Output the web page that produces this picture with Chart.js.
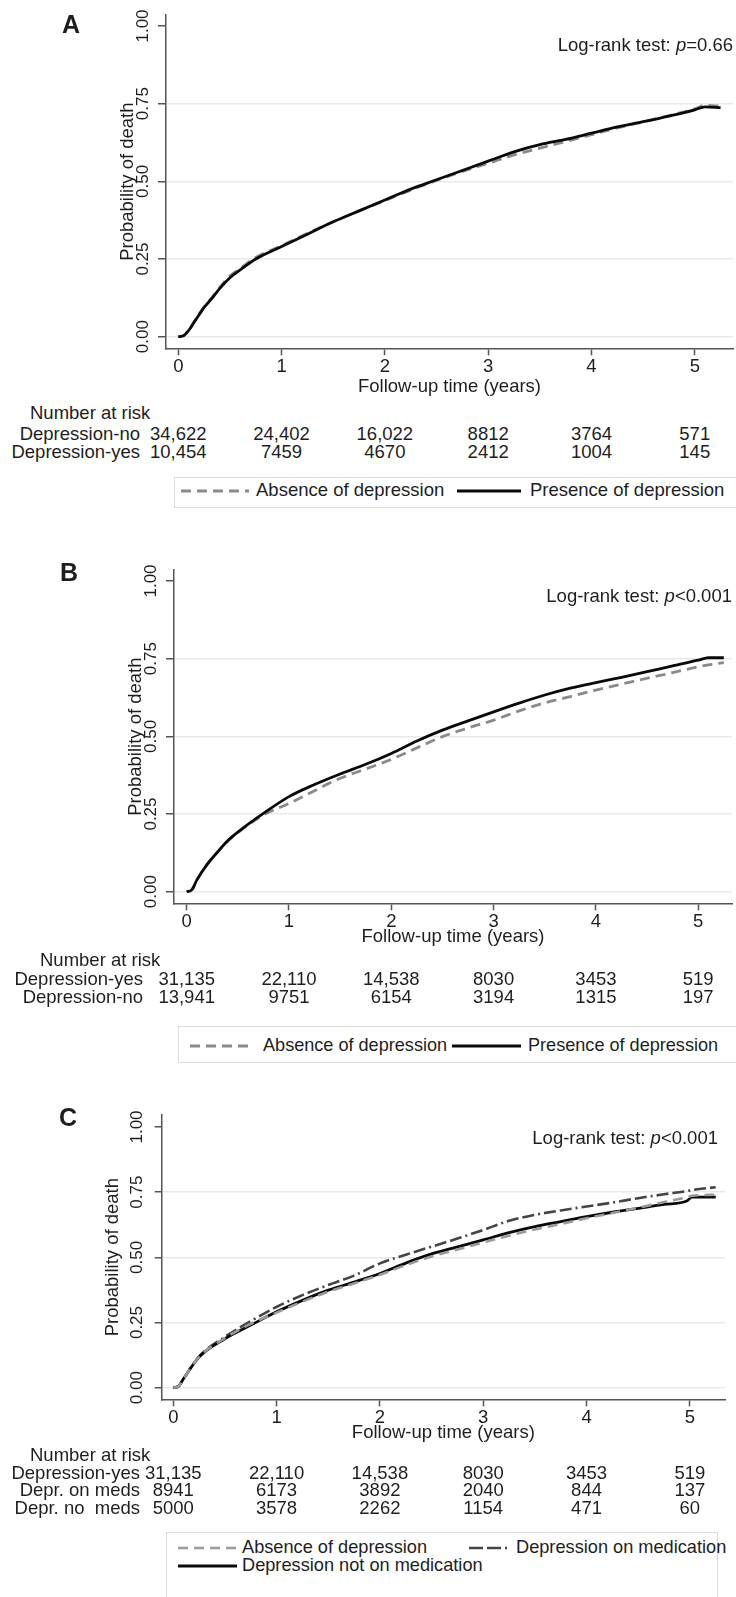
<!DOCTYPE html>
<html>
<head>
<meta charset="utf-8">
<script src="https://cdn.jsdelivr.net/npm/chart.js@4.4.1/dist/chart.umd.min.js"></script>
<style>
  html, body { margin: 0; padding: 0; background: #ffffff; }
  #page { position: relative; width: 736px; height: 1597px; overflow: hidden; background: #fff;
          font-family: "Liberation Sans", Arial, sans-serif; color: #1e1e1e; }
  canvas { position: absolute; left: 0; }
  .t { position: absolute; white-space: pre; line-height: 1.15; }
  .box { position: absolute; border: 1px solid #dcdcdc; box-sizing: border-box; }
  svg.leg { position: absolute; overflow: visible; }
</style>
</head>
<body>
<div id="page">
  <canvas id="cA" width="736" height="400" style="top:0px"></canvas>
  <canvas id="cB" width="736" height="400" style="top:550px"></canvas>
  <canvas id="cC" width="736" height="350" style="top:1100px"></canvas>
</div>
<script>
// ---------------- DATA ----------------
const xTicks = [0, 1, 2, 3, 4, 5];
const yTicks = [0, 0.25, 0.5, 0.75, 1];
const riskTimes = [0, 1, 2, 3, 4, 5];

// Panel A
const timeA = [0, 0.05, 0.1, 0.15, 0.2, 0.25, 0.33, 0.4, 0.5, 0.6, 0.75, 1.0, 1.25, 1.5, 1.75, 2.0, 2.25, 2.5, 2.75, 3.0, 3.25, 3.5, 3.75, 4.0, 4.25, 4.5, 4.75, 5.0, 5.1, 5.25];
const absenceA = [0, 0.003, 0.02, 0.046, 0.072, 0.097, 0.128, 0.158, 0.195, 0.22, 0.255, 0.293, 0.333, 0.37, 0.405, 0.438, 0.472, 0.503, 0.532, 0.558, 0.585, 0.607, 0.628, 0.65, 0.672, 0.691, 0.712, 0.733, 0.745, 0.742];
const presenceA = [0, 0.003, 0.02, 0.045, 0.07, 0.094, 0.125, 0.155, 0.19, 0.215, 0.25, 0.29, 0.33, 0.37, 0.405, 0.44, 0.475, 0.505, 0.535, 0.565, 0.595, 0.618, 0.635, 0.655, 0.675, 0.692, 0.71, 0.73, 0.74, 0.737];
const riskRowsA = ["Depression-no", "Depression-yes"];
const riskA_no = [34622, 24402, 16022, 8812, 3764, 571];
const riskA_yes = [10454, 7459, 4670, 2412, 1004, 145];
const pTextA = "=0.66";

// Panel B
const timeB = [0, 0.05, 0.1, 0.2, 0.3, 0.4, 0.5, 0.75, 1.0, 1.25, 1.5, 1.75, 2.0, 2.25, 2.5, 2.75, 3.0, 3.25, 3.5, 3.75, 4.0, 4.25, 4.5, 4.75, 5.0, 5.1, 5.25];
const absenceB = [0, 0.006, 0.038, 0.088, 0.127, 0.162, 0.19, 0.247, 0.284, 0.325, 0.365, 0.395, 0.426, 0.463, 0.499, 0.527, 0.552, 0.582, 0.608, 0.628, 0.649, 0.668, 0.687, 0.705, 0.724, 0.73, 0.737];
const presenceB = [0, 0.006, 0.038, 0.088, 0.127, 0.164, 0.192, 0.252, 0.306, 0.345, 0.379, 0.41, 0.445, 0.485, 0.52, 0.55, 0.579, 0.607, 0.633, 0.655, 0.673, 0.69, 0.708, 0.727, 0.745, 0.753, 0.753];
const riskRowsB = ["Depression-yes", "Depression-no"];
const riskB_yes = [31135, 22110, 14538, 8030, 3453, 519];
const riskB_no = [13941, 9751, 6154, 3194, 1315, 197];
const pTextB = "<0.001";

// Panel C
const timeC = [0, 0.05, 0.1, 0.25, 0.5, 0.75, 1.0, 1.25, 1.5, 1.75, 2.0, 2.25, 2.5, 2.75, 3.0, 3.25, 3.5, 3.75, 4.0, 4.25, 4.5, 4.75, 4.97, 5.02, 5.25];
const absenceC = [0, 0.005, 0.035, 0.118, 0.19, 0.245, 0.288, 0.33, 0.368, 0.4, 0.433, 0.47, 0.503, 0.53, 0.557, 0.583, 0.607, 0.628, 0.65, 0.67, 0.69, 0.712, 0.73, 0.736, 0.74];
const onMedsC = [0, 0.005, 0.035, 0.12, 0.195, 0.255, 0.31, 0.355, 0.394, 0.43, 0.477, 0.51, 0.541, 0.572, 0.605, 0.64, 0.663, 0.68, 0.695, 0.71, 0.727, 0.742, 0.754, 0.758, 0.769];
const noMedsC = [0, 0.005, 0.035, 0.118, 0.188, 0.24, 0.291, 0.335, 0.374, 0.405, 0.438, 0.478, 0.513, 0.54, 0.567, 0.595, 0.618, 0.637, 0.656, 0.673, 0.688, 0.703, 0.716, 0.731, 0.731];
const riskRowsC = ["Depression-yes", "Depr. on meds", "Depr. no  meds"];
const riskC_yes = [31135, 22110, 14538, 8030, 3453, 519];
const riskC_on = [8941, 6173, 3892, 2040, 844, 137];
const riskC_no = [5000, 3578, 2262, 1154, 471, 60];
const pTextC = "<0.001";

// ---------------- STYLE ----------------
const FAM = '"Liberation Sans", Arial, sans-serif';
const TXT = '#1e1e1e';
const AXIS = '#555555';
const GRID = '#e9e9e9';
const page = document.getElementById('page');

function pts(t, v) { return t.map((x, i) => ({ x: x, y: v[i] })); }
function fmt(n) { return n >= 10000 ? n.toLocaleString('en-US') : String(n); }
function esc(s) { return s.replace(/&/g, '&amp;').replace(/</g, '&lt;'); }

function addText(html, x, y, align, size, extra) {
  const d = document.createElement('div');
  d.className = 't';
  d.innerHTML = html;
  d.style.left = x + 'px';
  d.style.top = y + 'px';
  d.style.fontSize = size + 'px';
  const tx = align === 'center' ? '-50%' : (align === 'right' ? '-100%' : '0');
  d.style.transform = 'translate(' + tx + ',-50%)';
  if (extra) Object.assign(d.style, extra);
  page.appendChild(d);
  return d;
}

function addLegendLine(x1, x2, y, color, width, dash) {
  const ns = 'http://www.w3.org/2000/svg';
  const s = document.createElementNS(ns, 'svg');
  s.setAttribute('class', 'leg');
  s.setAttribute('width', x2 - x1);
  s.setAttribute('height', 6);
  s.style.left = x1 + 'px';
  s.style.top = (y - 3) + 'px';
  const l = document.createElementNS(ns, 'line');
  l.setAttribute('x1', 0); l.setAttribute('x2', x2 - x1);
  l.setAttribute('y1', 3); l.setAttribute('y2', 3);
  l.setAttribute('stroke', color);
  l.setAttribute('stroke-width', width);
  if (dash) l.setAttribute('stroke-dasharray', dash.join(' '));
  s.appendChild(l);
  page.appendChild(s);
}

function addBox(l, t, r, b) {
  const d = document.createElement('div');
  d.className = 'box';
  d.style.left = l + 'px'; d.style.top = t + 'px';
  d.style.width = (r - l) + 'px'; d.style.height = (b - t) + 'px';
  page.appendChild(d);
}

function makeChart(id, g, datasets) {
  const cv = document.getElementById(id);
  return new Chart(cv, {
    type: 'line',
    data: { datasets: datasets },
    options: {
      responsive: false,
      animation: false,
      devicePixelRatio: 1,
      layout: { padding: { left: 0, top: g.chartTop - g.top, right: 736 - g.chartRight, bottom: 0 } },
      plugins: { legend: { display: false }, tooltip: { enabled: false } },
      elements: { point: { radius: 0 }, line: { cubicInterpolationMode: 'monotone', borderCapStyle: 'butt' } },
      scales: {
        x: {
          type: 'linear', min: g.xmin, max: g.xmax,
          afterBuildTicks: s => { s.ticks = xTicks.map(v => ({ value: v })); },
          afterFit: s => { s.height = g.top + g.height - g.chartBottom; },
          ticks: { font: { family: FAM, size: 18.5 }, color: TXT, padding: 0.5, maxRotation: 0, autoSkip: false,
                   callback: v => String(v) },
          grid: { drawOnChartArea: false, drawTicks: true, tickLength: 7, tickColor: AXIS, tickWidth: 1.5 },
          border: { display: true, color: AXIS, width: 1.5 },
          title: { display: true, text: 'Follow-up time (years)', font: { family: FAM, size: 18.5 }, color: TXT,
                   padding: { top: 0, bottom: g.xTitlePad } }
        },
        y: {
          type: 'linear', min: g.ymin, max: g.ymax,
          afterBuildTicks: s => { s.ticks = yTicks.map(v => ({ value: v })); },
          afterFit: s => { s.width = g.chartLeft; },
          ticks: { font: { family: FAM, size: 17 }, color: TXT, padding: g.yTickPad, minRotation: 90, maxRotation: 90,
                   crossAlign: 'center', autoSkip: false, callback: v => v.toFixed(2) },
          grid: { color: c => (c.tick && c.tick.value === 1) ? 'rgba(0,0,0,0)' : GRID, lineWidth: 1.5,
                  tickColor: AXIS, tickLength: g.yTickLen, tickWidth: 1.5 },
          border: { display: true, color: AXIS, width: 1.5 },
          title: { display: true, text: 'Probability of death', font: { family: FAM, size: 18.5 }, color: TXT,
                   padding: { top: g.yTitleX - 11.1, bottom: 0 } }
        }
      }
    }
  });
}

const DASH_ABS = [10, 6];
const DASH_MED = [12, 4, 12, 4, 2, 4];

// ---------------- PANEL A ----------------
const gA = { top: 0, height: 400, chartTop: 15, chartBottom: 348.3, chartLeft: 166, chartRight: 733,
             xmin: -0.119, xmax: 5.37, ymin: -0.0373, ymax: 1.0354, yTitleX: 128, yTickPad: -1.8, xTitlePad: 1.9, yTickLen: 8 };
const chA = makeChart('cA', gA, [
  { label: 'Presence of depression', data: pts(timeA, presenceA), borderColor: '#0a0a0a', borderWidth: 2.8, order: 0 },
  { label: 'Absence of depression', data: pts(timeA, absenceA), borderColor: '#8a8a8a', borderWidth: 2.8, borderDash: DASH_ABS, order: 1 }
]);

// ---------------- PANEL B ----------------
const gB = { top: 550, height: 400, chartTop: 570, chartBottom: 903.3, chartLeft: 174, chartRight: 732,
             xmin: -0.124, xmax: 5.33, ymin: -0.0373, ymax: 1.0354, yTitleX: 136, yTickPad: -2.2, xTitlePad: 1.9, yTickLen: 8 };
const chB = makeChart('cB', gB, [
  { label: 'Presence of depression', data: pts(timeB, presenceB), borderColor: '#0a0a0a', borderWidth: 2.8, order: 0 },
  { label: 'Absence of depression', data: pts(timeB, absenceB), borderColor: '#8a8a8a', borderWidth: 2.8, borderDash: DASH_ABS, order: 1 }
]);

// ---------------- PANEL C ----------------
const gC = { top: 1100, height: 350, chartTop: 1115, chartBottom: 1399.3, chartLeft: 161.7, chartRight: 725,
             xmin: -0.112, xmax: 5.34, ymin: -0.0445, ymax: 1.046, yTitleX: 113, yTickPad: 0.5, xTitlePad: 5.9, yTickLen: 7 };
const chC = makeChart('cC', gC, [
  { label: 'Absence of depression', data: pts(timeC, absenceC), borderColor: '#9a9a9a', borderWidth: 2.6, borderDash: DASH_ABS, order: 0 },
  { label: 'Depression not on medication', data: pts(timeC, noMedsC), borderColor: '#0a0a0a', borderWidth: 2.8, order: 1 },
  { label: 'Depression on medication', data: pts(timeC, onMedsC), borderColor: '#444444', borderWidth: 2.6, borderDash: DASH_MED, order: 2 }
]);

// ---------------- ANNOTATIONS ----------------
function riskTable(chart, headY, headX, labelRight, rows, values, rowYs) {
  addText('Number at risk', headX, headY, 'left', 18.5);
  const xs = chart.scales.x;
  rows.forEach((lab, r) => {
    addText(lab, labelRight, rowYs[r], 'right', 18.5);
    riskTimes.forEach((t, i) => {
      addText(fmt(values[r][i]), xs.getPixelForValue(t), rowYs[r], 'center', 18.5);
    });
  });
}

// Panel letters
addText('A', 71, 24, 'center', 25, { fontWeight: 'bold' });
addText('B', 69, 572, 'center', 25, { fontWeight: 'bold' });
addText('C', 68, 1117, 'center', 25, { fontWeight: 'bold' });

// Log-rank labels
addText('Log-rank test: <i>p</i>' + esc(pTextA), 733, 45, 'right', 18.5);
addText('Log-rank test: <i>p</i>' + esc(pTextB), 732, 596, 'right', 18.5);
addText('Log-rank test: <i>p</i>' + esc(pTextC), 718, 1138, 'right', 18.5);

// Risk tables
riskTable(chA, 413, 30, 140, riskRowsA, [riskA_no, riskA_yes], [434, 452]);
riskTable(chB, 960, 40, 143, riskRowsB, [riskB_yes, riskB_no], [979, 997]);
riskTable(chC, 1455, 30, 140, riskRowsC, [riskC_yes, riskC_on, riskC_no], [1473, 1490, 1508]);

// Legends
addBox(174, 477, 740, 508);
addLegendLine(181, 249, 491, '#8a8a8a', 2.8, DASH_ABS);
addText('Absence of depression', 256, 490, 'left', 18.5);
addLegendLine(457, 521, 491, '#0a0a0a', 2.8, null);
addText('Presence of depression', 530, 490, 'left', 18.5);

addBox(178, 1026, 740, 1063);
addLegendLine(190, 249, 1046, '#8a8a8a', 2.8, DASH_ABS);
addText('Absence of depression', 263, 1045, 'left', 18.1);
addLegendLine(452, 521, 1046, '#0a0a0a', 2.8, null);
addText('Presence of depression', 528, 1045, 'left', 18.1);

addBox(166, 1532, 718, 1600);
addLegendLine(178, 237, 1548, '#9a9a9a', 2.6, DASH_ABS);
addText('Absence of depression', 242, 1547, 'left', 18.2);
addLegendLine(469, 511, 1548, '#444444', 2.6, [14, 4, 14, 4, 2, 4]);
addText('Depression on medication', 516, 1547, 'left', 18.2);
addLegendLine(178, 237, 1566, '#0a0a0a', 2.8, null);
addText('Depression not on medication', 242, 1565, 'left', 18.2);
</script>
</body>
</html>
